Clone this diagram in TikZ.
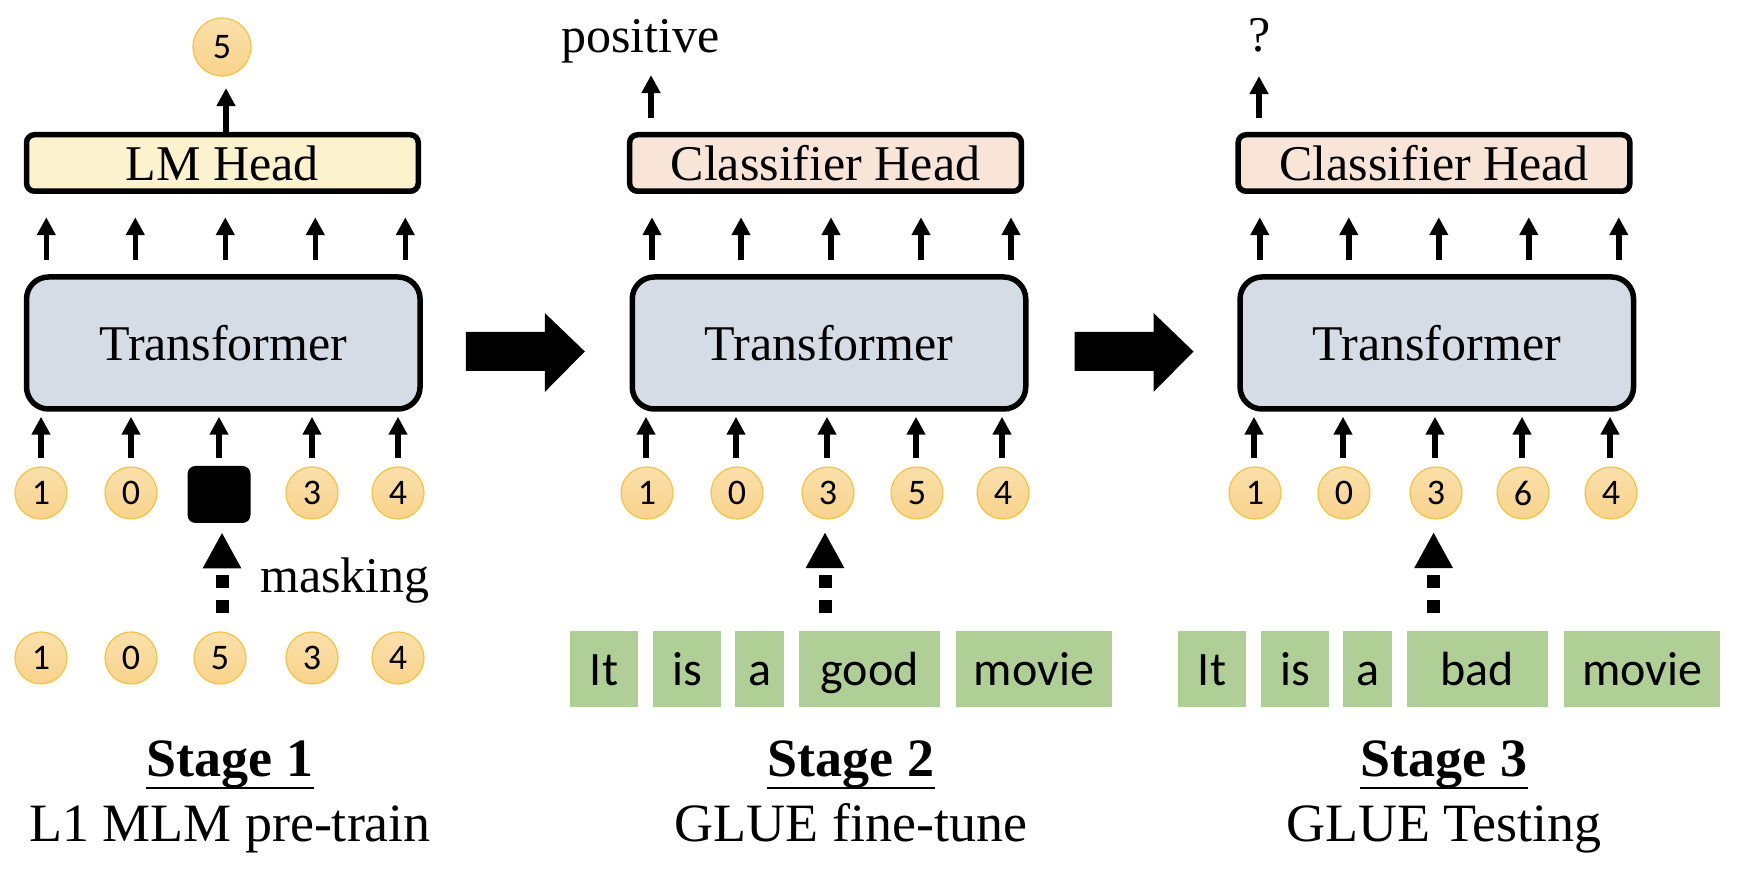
\documentclass[tikz,border=0pt]{standalone}
\usepackage{fontspec}
\setmainfont{Liberation Serif}
\newfontfamily\calfont{Carlito}
\usetikzlibrary{arrows.meta,calc}
\definecolor{tfill}{HTML}{D6DCE5}
\definecolor{lmfill}{HTML}{FCF2CD}
\definecolor{clfill}{HTML}{F8E5D7}
\definecolor{cirtop}{HTML}{FBE0AA}
\definecolor{cirbot}{HTML}{F8D38C}
\definecolor{cirdraw}{HTML}{F5C343}
\definecolor{gfill}{HTML}{B0CF96}
\begin{document}
\begin{tikzpicture}[x=0.5pt,y=-0.5pt,
  sarrow/.style={line width=2.75pt, -{Triangle[width=9pt,length=9pt]}},
  tbox/.style={draw, line width=2.75pt, rounded corners=11pt, fill=tfill, minimum width=196.75pt, minimum height=66pt, inner sep=0pt, font=\fontsize{25}{30}\selectfont},
  hbox/.style={draw, line width=2.75pt, rounded corners=4pt, minimum width=195.9pt, minimum height=28.25pt, inner sep=0pt, font=\fontsize{25}{30}\selectfont},
  tok/.style={circle, draw=cirdraw, line width=0.6pt, top color=cirtop, bottom color=cirbot, minimum size=26pt, inner sep=0pt, font=\calfont\fontsize{18}{18}\selectfont},
  word/.style={fill=gfill, minimum height=38pt, inner sep=0pt, text height=16pt, text depth=0pt, font=\calfont\fontsize{24}{24}\selectfont},
  lbl/.style={inner sep=0pt, anchor=base, font=\fontsize{25}{30}\selectfont},
  stg/.style={inner sep=0pt, anchor=base, font=\fontsize{27}{32}\selectfont\bfseries},
  sub/.style={inner sep=0pt, anchor=base, font=\fontsize{27}{32}\selectfont},
  dotarrow/.style={line width=6.5pt, dash pattern=on 6.5pt off 6pt, -{Triangle[width=18pt,length=18pt]}},
  maskbox/.style={fill=black, rounded corners=4pt, minimum width=31.5pt, minimum height=28.5pt, inner sep=0pt},
  bigarrow/.style={fill=black}
]
\useasboundingbox (0,0) rectangle (1742,886);

% ---------------- Stage 1 ----------------
\node[tok, minimum size=29pt] (out1) at (222,47) {5};
\node[hbox, fill=lmfill] (hd1) at (222.4,163) {LM Head};
\node[tbox] (tr1) at (223.3,343) {Transformer};
\node[tok] (c11) at (41,493) {1};
\node[tok] (c12) at (131,493) {0};
\node[maskbox] (sq) at (219,494.5) {};
\node[tok] (c14) at (312,493) {3};
\node[tok] (c15) at (398,493) {4};
\node[tok] (r11) at (41,658) {1};
\node[tok] (r12) at (131,658) {0};
\node[tok] (r13) at (220,658) {5};
\node[tok] (r14) at (312,658) {3};
\node[tok] (r15) at (398,658) {4};
\node[lbl, anchor=base west] (mask) at (260,593) {masking};
\node[stg] (st1) at (230,777) {Stage 1};
\node[sub] (sd1) at (230,842) {L1 MLM pre-train};
\draw[line width=1pt] ($(st1.base west)+(0,11)$) -- ($(st1.base east)+(0,11)$);

\draw[sarrow] ($(hd1.north)+(3.6,0)$) -- ($(out1.south)+(4,11.5)$);
\foreach \dx in {-177,-88,2,92,182}
  \draw[sarrow] ($(tr1.north)+(\dx,-14)$) -- ($(tr1.north)+(\dx,-57)$);
\foreach \n in {c11,c12,c14,c15}
  \draw[sarrow] ($(\n.north)+(0,-8.5)$) -- ($(\n.north |- tr1.south)+(0,5)$);
\draw[sarrow] ($(sq.north)+(0,-8)$) -- ($(sq.north |- tr1.south)+(0,5)$);
\draw[dotarrow] ($(r13.north)+(2,-18.5)$) -- ($(r13.north |- sq.south)+(2,9)$);

% ---------------- Stage 2 ----------------
\node[lbl] (pos) at (640.5,53) {positive};
\node[hbox, fill=clfill] (hd2) at (825.5,163) {Classifier Head};
\node[tbox] (tr2) at (829,343) {Transformer};
\node[tok] (c21) at (647,493) {1};
\node[tok] (c22) at (737,493) {0};
\node[tok] (c23) at (828,493) {3};
\node[tok] (c24) at (917,493) {5};
\node[tok] (c25) at (1003,493) {4};
\node[word, minimum width=34pt] (w21) at (604,669.5) {It};
\node[word, minimum width=33.85pt] (w22) at (686.9,669.5) {is};
\node[word, minimum width=24.5pt] (w23) at (759.5,669.5) {a};
\node[word, minimum width=70.5pt] (w24) at (869.5,669.5) {good};
\node[word, minimum width=78pt] (w25) at (1034,669.5) {movie};
\node[stg] (st2) at (851,777) {Stage 2};
\node[sub] (sd2) at (851,842) {GLUE fine-tune};
\draw[line width=1pt] ($(st2.base west)+(0,11)$) -- ($(st2.base east)+(0,11)$);

\draw[sarrow] ($(pos.south |- hd2.north)+(10.5,-14)$) -- ($(pos.south)+(10.5,11)$);
\foreach \dx in {-177,-88,2,92,182}
  \draw[sarrow] ($(tr2.north)+(\dx,-14)$) -- ($(tr2.north)+(\dx,-57)$);
\foreach \n in {c21,c22,c23,c24,c25}
  \draw[sarrow] ($(\n.north)+(-1,-8.5)$) -- ($(\n.north |- tr2.south)+(-1,5)$);
\draw[dotarrow] ($(c23.south |- w24.north)+(-3,-18)$) -- ($(c23.south)+(-3,12.5)$);

% ---------------- Stage 3 ----------------
\node[lbl] (q) at (1260,52) {?};
\node[hbox, fill=clfill] (hd3) at (1434,163) {Classifier Head};
\node[tbox] (tr3) at (1436.8,343) {Transformer};
\node[tok] (c31) at (1255,493) {1};
\node[tok] (c32) at (1344,493) {0};
\node[tok] (c33) at (1436,493) {3};
\node[tok] (c34) at (1523,493) {6};
\node[tok] (c35) at (1611,493) {4};
\node[word, minimum width=34pt] (w31) at (1212,669.5) {It};
\node[word, minimum width=34pt] (w32) at (1295,669.5) {is};
\node[word, minimum width=24.5pt] (w33) at (1367.5,669.5) {a};
\node[word, minimum width=70.5pt] (w34) at (1477.5,669.5) {bad};
\node[word, minimum width=78pt] (w35) at (1642,669.5) {movie};
\node[stg] (st3) at (1444,777) {Stage 3};
\node[sub] (sd3) at (1444,842) {GLUE Testing};
\draw[line width=1pt] ($(st3.base west)+(0,11)$) -- ($(st3.base east)+(0,11)$);

\draw[sarrow] ($(q.south |- hd3.north)+(-1,-14)$) -- ($(q.south)+(-1,23)$);
\foreach \dx in {-177,-88,2,92,182}
  \draw[sarrow] ($(tr3.north)+(\dx,-14)$) -- ($(tr3.north)+(\dx,-57)$);
\foreach \n in {c31,c32,c33,c34,c35}
  \draw[sarrow] ($(\n.north)+(-1,-8.5)$) -- ($(\n.north |- tr3.south)+(-1,5)$);
\draw[dotarrow] ($(c33.south |- w34.north)+(-2.4,-18)$) -- ($(c33.south)+(-2.4,12.5)$);

% ---------------- Block arrows between stages ----------------
\fill[bigarrow] ($(tr1.east)+(43,-11)$) -- ++(79,0) -- ++(0,-19) -- ++(40,38.5) -- ++(-40,40.5) -- ++(0,-21) -- ++(-79,0) -- cycle;
\fill[bigarrow] ($(tr2.east)+(46,-11)$) -- ++(79,0) -- ++(0,-19) -- ++(40,38.5) -- ++(-40,40.5) -- ++(0,-21) -- ++(-79,0) -- cycle;
\end{tikzpicture}
\end{document}
